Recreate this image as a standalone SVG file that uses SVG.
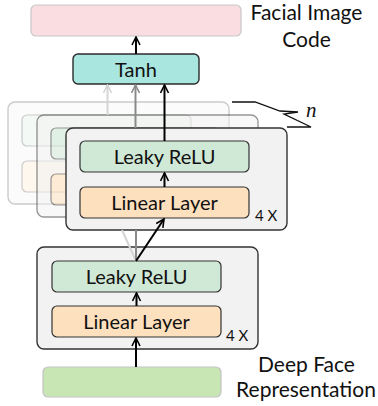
<svg xmlns="http://www.w3.org/2000/svg" width="378" height="406" viewBox="0 0 378 406">
<defs>
<marker id="ahk" viewBox="0 0 10 10" refX="9" refY="5" markerWidth="10" markerHeight="10" markerUnits="userSpaceOnUse" orient="auto">
<path d="M1,1 L9,5 L1,9" fill="none" stroke="#000" stroke-width="1.6"/>
</marker>
<marker id="ahg" viewBox="0 0 10 10" refX="9" refY="5" markerWidth="10" markerHeight="10" markerUnits="userSpaceOnUse" orient="auto">
<path d="M1,1 L9,5 L1,9" fill="none" stroke="#8a8a8a" stroke-width="1.6"/>
</marker>
<marker id="ahl" viewBox="0 0 10 10" refX="9" refY="5" markerWidth="10" markerHeight="10" markerUnits="userSpaceOnUse" orient="auto">
<path d="M1,1 L9,5 L1,9" fill="none" stroke="#d4d4d4" stroke-width="1.6"/>
</marker>
</defs>
<style>
text{font-family:Lato,"Open Sans","Liberation Sans",sans-serif;fill:#111}
.lbl{font-size:20px;text-anchor:middle}
.side{font-size:21px;text-anchor:middle}
.rep{font-size:15px}
.nn{font-family:"Liberation Serif",serif;font-style:italic;font-size:21px}
.cont{fill:#f2f2f2;stroke:#333;stroke-width:1.4}
.relu{fill:#d0e9d6;stroke:#333;stroke-width:1.2}
.lin{fill:#fde0bd;stroke:#333;stroke-width:1.2}
.k{stroke:#000;stroke-width:2;fill:none;marker-end:url(#ahk)}
.g{stroke:#8a8a8a;stroke-width:2;fill:none}
.l{stroke:#d4d4d4;stroke-width:2;fill:none}
</style>
<g id="output-code">
<rect x="31" y="5" width="210" height="31" rx="5" fill="#f9dde0" stroke="#c8c8c8" stroke-width="1.2"/>
<text class="side" x="306.5" y="20">Facial Image</text>
<text class="side" x="306.5" y="47">Code</text>
</g>
<g id="tanh">
<rect x="73" y="54" width="126" height="30" rx="5" fill="#a9e6e0" stroke="#2b2b2b" stroke-width="1.4"/>
<text class="lbl" x="136" y="77">Tanh</text>
</g>
<g id="block-back" opacity="0.25">
<rect class="cont" x="8" y="102" width="221" height="102" rx="7"/>
<rect class="relu" x="22" y="115" width="169" height="31" rx="5"/>
<rect class="lin" x="22" y="161" width="169" height="31" rx="5"/>
</g>
<g id="block-mid" opacity="0.5">
<rect class="cont" x="37" y="115" width="221" height="102" rx="7"/>
<rect class="relu" x="51" y="128" width="169" height="31" rx="5"/>
<rect class="lin" x="51" y="174" width="169" height="31" rx="5"/>
</g>
<g id="block-front">
<rect class="cont" x="66" y="128" width="221" height="102" rx="7"/>
<rect class="relu" x="80" y="141" width="169" height="31" rx="5"/>
<text class="lbl" x="164.5" y="164">Leaky ReLU</text>
<rect class="lin" x="80" y="187" width="169" height="31" rx="5"/>
<text class="lbl" x="164.5" y="210">Linear Layer</text>
<text class="rep" x="255" y="221">4 X</text>
</g>
<g id="block-first">
<rect class="cont" x="37" y="247" width="221" height="102" rx="7"/>
<rect class="relu" x="52" y="261" width="169" height="31" rx="5"/>
<text class="lbl" x="136.5" y="284">Leaky ReLU</text>
<rect class="lin" x="52" y="306" width="169" height="31" rx="5"/>
<text class="lbl" x="136.5" y="329">Linear Layer</text>
<text class="rep" x="226" y="341">4 X</text>
</g>
<g id="deep-face">
<rect x="43" y="367" width="178" height="30" rx="5" fill="#c8e6b3" stroke="#c4c4c4" stroke-width="1.2"/>
<text class="side" x="306.5" y="372">Deep Face</text>
<text class="side" x="306" y="397">Representation</text>
</g>
<g id="brace">
<path d="M232,102 L255,102 L280,111 L298,112 L284,114 L311,127 L287,127" fill="none" stroke="#111" stroke-width="1.3"/>
<text class="nn" x="306" y="117">n</text>
</g>
<g id="connectors">
<line class="k" x1="136" y1="54" x2="136" y2="37"/>
<line class="l" x1="107.5" y1="115" x2="107.5" y2="85" marker-end="url(#ahl)"/>
<line class="g" x1="135.5" y1="128" x2="135.5" y2="85" marker-end="url(#ahg)"/>
<line class="k" x1="164.5" y1="141" x2="164.5" y2="85"/>
<line class="k" x1="164.5" y1="187" x2="164.5" y2="173"/>
<line class="l" x1="136" y1="261" x2="122" y2="230"/>
<line class="g" x1="136" y1="261" x2="136" y2="230"/>
<line class="k" x1="136" y1="261" x2="164" y2="219"/>
<line class="k" x1="136.5" y1="306" x2="136.5" y2="293"/>
<line class="k" x1="136" y1="367" x2="136" y2="338"/>
</g>
</svg>
